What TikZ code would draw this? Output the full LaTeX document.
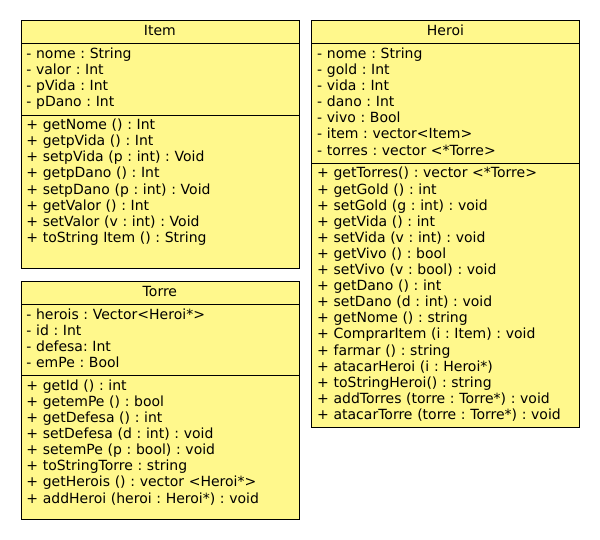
\documentclass[tikz,border=0pt]{standalone}
\usepackage{fontspec}
\setmainfont{DejaVu Sans}
\usetikzlibrary{positioning, shapes.multipart}
\definecolor{UMLYellow}{HTML}{FFF88C}
\newcommand{\gap}[1]{\rule[-#1]{0pt}{#1}}
\newcommand{\classname}[1]{\hfill\strut #1\hfill\null}

\begin{document}
\begin{tikzpicture}[
  x=1pt, y=-1pt,
  node distance=12pt,
  umlclass/.style={rectangle split, rectangle split parts=3, draw=black, line width=0.8pt, fill=UMLYellow, align=left, inner xsep=5.5pt, inner ysep=3pt, font=\fontsize{14}{16.1}\selectfont\frenchspacing},
]
\useasboundingbox (0,0) rectangle (600,540);
\node[umlclass, text width=267pt, anchor=north west] at (20.5,20.5) (Item){%
  \classname{Item}
  \nodepart{two}\strut - nome : String\\
  - valor : Int\\
  - pVida : Int\\
  - pDano : Int\strut
  \nodepart{three}\strut + getNome () : Int\\
  + getpVida () : Int\\
  + setpVida (p : int) : Void\\
  + getpDano () : Int\\
  + setpDano (p : int) : Void\\
  + getValor () : Int\\
  + setValor (v : int) : Void\\
  + toString Item () : String\strut\gap{23pt}};
\node[umlclass, text width=267pt, below=of Item] (Torre){%
  \classname{Torre}
  \nodepart{two}\strut - herois : Vector<Heroi*>\\
  - id : Int\\
  - defesa: Int\\
  - emPe : Bool\strut
  \nodepart{three}\strut + getId () : int\\
  + getemPe () : bool\\
  + getDefesa () : int\\
  + setDefesa (d : int) : void\\
  + setemPe (p : bool) : void\\
  + toStringTorre : string\\
  + getHerois () : vector <Heroi*>\\
  + addHeroi (heroi : Heroi*) : void\strut\gap{12.5pt}};
\node[umlclass, text width=256.5pt, right=of Item.north east, anchor=north west] (Heroi){%
  \classname{Heroi}
  \nodepart{two}\strut - nome : String\\
  - gold : Int\\
  - vida : Int\\
  - dano : Int\\
  - vivo : Bool\\
  - item : vector<Item>\\
  - torres : vector <*Torre>\strut
  \nodepart{three}\strut + getTorres() : vector <*Torre>\\
  + getGold () : int\\
  + setGold (g : int) : void\\
  + getVida () : int\\
  + setVida (v : int) : void\\
  + getVivo () : bool\\
  + setVivo (v : bool) : void\\
  + getDano () : int\\
  + setDano (d : int) : void\\
  + getNome () : string\\
  + ComprarItem (i : Item) : void\\
  + farmar () : string\\
  + atacarHeroi (i : Heroi*)\\
  + toStringHeroi() : string\\
  + addTorres (torre : Torre*) : void\\
  + atacarTorre (torre : Torre*) : void\strut};
\end{tikzpicture}
\end{document}
